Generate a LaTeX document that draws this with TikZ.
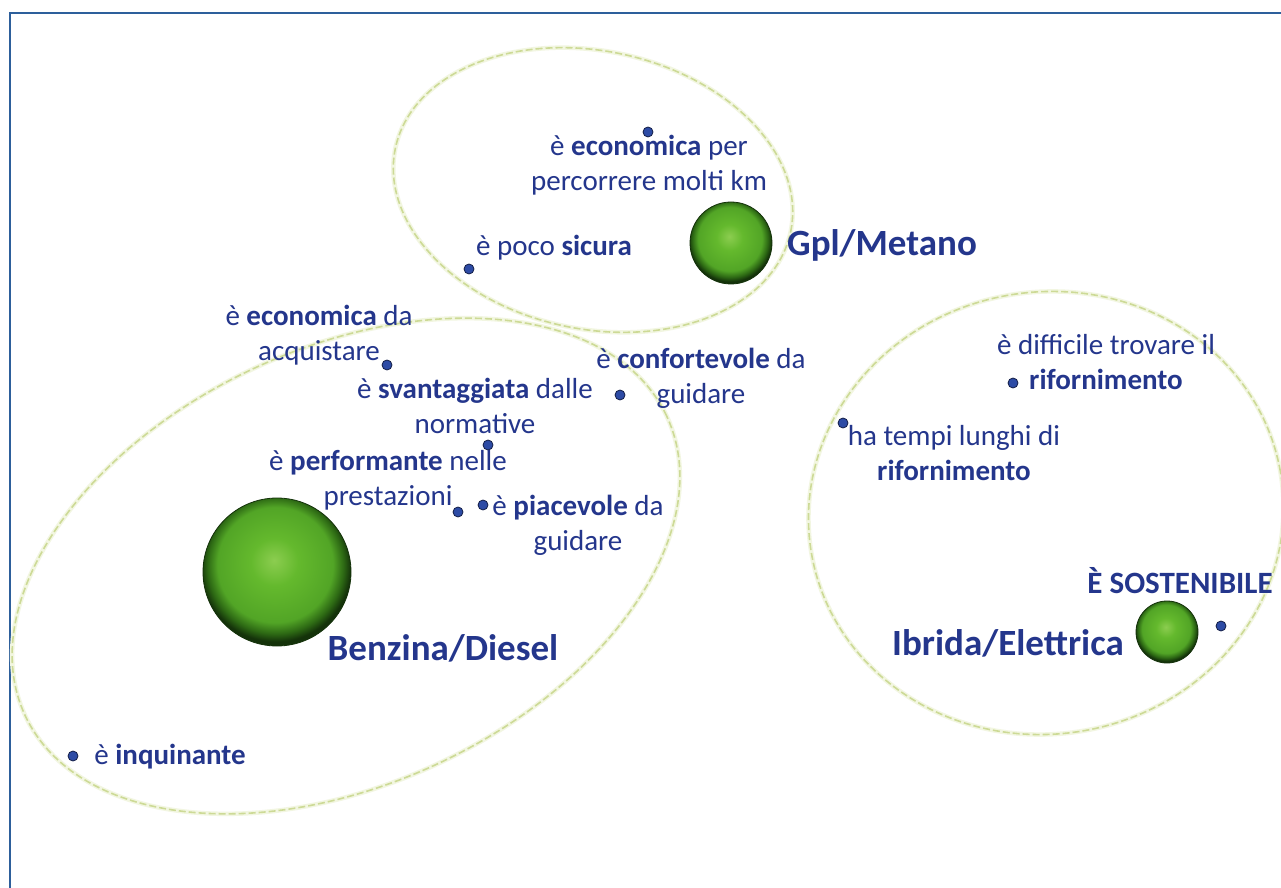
\documentclass[tikz,border=0pt]{standalone}
\usepackage{fontspec}
\setmainfont{Carlito}
\definecolor{navy}{RGB}{36,54,140}
\definecolor{dotfill}{RGB}{45,75,165}
\definecolor{dotedge}{RGB}{20,30,70}
\definecolor{ringcol}{RGB}{205,218,150}
\definecolor{ringglow}{RGB}{242,246,225}
\definecolor{framecol}{RGB}{45,95,155}
\definecolor{sphlight}{RGB}{140,205,80}
\definecolor{sphmid}{RGB}{100,185,45}
\definecolor{sphmid2}{RGB}{82,165,38}
\definecolor{sphdark}{RGB}{45,105,20}
\definecolor{sphedge}{RGB}{20,50,10}
\pgfdeclareradialshading{greenball}{\pgfpoint{-1bp}{4bp}}{%
  color(0bp)=(sphlight); color(8bp)=(sphmid); color(19.5bp)=(sphmid2);
  color(23bp)=(sphdark); color(25.5bp)=(sphedge); color(50bp)=(sphedge)}
\tikzset{
  lbl/.style={text=navy, font=\fontsize{29}{35}\selectfont, align=center, inner sep=0pt},
  biglbl/.style={text=navy, font=\fontsize{37}{40}\selectfont\bfseries, inner sep=0pt},
  midlbl/.style={text=navy, font=\fontsize{31}{34}\selectfont\bfseries, inner sep=0pt},
  dotpt/.style={circle, fill=dotfill, draw=dotedge, line width=0.8pt, minimum size=10pt, inner sep=0pt},
  sphere/.style={circle, shading=greenball, draw=sphedge, line width=0.8pt, inner sep=0pt, minimum size=#1},
  ring/.style={draw=ringcol, line width=1.6pt, dash pattern=on 7pt off 3pt,
    preaction={draw=ringglow, line width=4.5pt, solid}},
  frameline/.style={draw=framecol, line width=2.5pt}
}
\begin{document}
\begin{tikzpicture}[x=1pt,y=1pt]
\useasboundingbox (0,0) rectangle (1281,887);
\clip (0,0) rectangle (1281,887);
\fill[white] (0,0) rectangle (1281,887);
% frame
\draw[frameline] (10,-5) -- (10,874) -- (1290,874);
% group ellipses
\draw[ring] (593,697) ellipse [x radius=202, y radius=139, rotate=-12];
\draw[ring] (346,321) ellipse [x radius=354, y radius=218, rotate=25];
\draw[ring] (1046,374) ellipse [x radius=238, y radius=221, rotate=10];
% spheres
\node[sphere=82pt] (sgpl) at (731,644) {};
\node[sphere=148pt] (sbenz) at (277,315) {};
\node[sphere=62pt] (sibr) at (1167,255) {};
% group titles
\node[biglbl] (tgpl) at (882,642) {Gpl/Metano};
\node[biglbl] (tbenz) at (443,239) {Benzina/Diesel};
\node[biglbl] (tibr) at (1008,244) {Ibrida/Elettrica};
\node[midlbl] (tsost) at (1180,306) {È SOSTENIBILE};
% dots
\node[dotpt] (d1) at (648,755) {};
\node[dotpt] (d2) at (469,618) {};
\node[dotpt] (d3) at (387,522) {};
\node[dotpt] (d4) at (620,492) {};
\node[dotpt] (d5) at (488,442) {};
\node[dotpt] (d6) at (458,375) {};
\node[dotpt] (d7) at (483,382) {};
\node[dotpt] (d8) at (73,131) {};
\node[dotpt] (d9) at (1013,504) {};
\node[dotpt] (d10) at (843,464) {};
\node[dotpt] (d11) at (1221,261) {};
% labels
\node[lbl] (l1) at (649,722) {è \textbf{economica} per\\percorrere molti km};
\node[lbl] (l2) at (554,639) {è poco \textbf{sicura}};
\node[lbl] (l3) at (319,552) {è \textbf{economica} da\\acquistare};
\node[lbl] (l4) at (475,481) {è \textbf{svantaggiata} dalle\\normative};
\node[lbl] (l5) at (701,509) {è \textbf{confortevole} da\\guidare};
\node[lbl] (l6) at (388,407) {è \textbf{performante} nelle\\prestazioni};
\node[lbl] (l7) at (578,362) {è \textbf{piacevole} da\\guidare};
\node[lbl] (l8) at (170,130) {è \textbf{inquinante}};
\node[lbl] (l9) at (1106,525) {è difficile trovare il\\\textbf{rifornimento}};
\node[lbl] (l10) at (954,434) {ha tempi lunghi di\\\textbf{rifornimento}};
\end{tikzpicture}
\end{document}
